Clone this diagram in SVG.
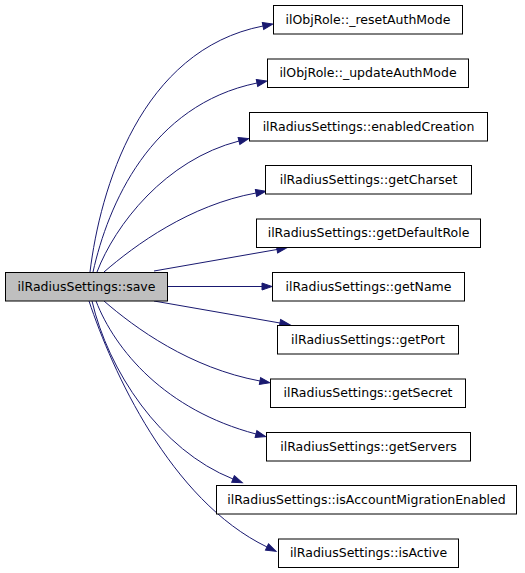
<svg xmlns="http://www.w3.org/2000/svg" width="525" height="573" viewBox="0 0 525 573">
<style>
.n rect{fill:#fff;stroke:#000;stroke-width:1}
.n text{font-family:"DejaVu Sans",sans-serif;font-size:12.5px;text-anchor:middle;fill:#000}
#save rect{fill:#bfbfbf}
.e path{fill:none;stroke:#191970;stroke-width:1;marker-end:url(#ah)}
</style>
<defs>
<marker id="ah" markerUnits="userSpaceOnUse" markerWidth="12" markerHeight="10" refX="0" refY="4" orient="auto" viewBox="0 0 12 8" overflow="visible">
<path d="M0,0.5 L10,4 L0,7.5 Z" fill="#191970" stroke="#191970" stroke-width="1"/>
</marker>
</defs>
<g id="edges" class="e">
<path d="M90,272 C100,190 140,50 263,26"/>
<path d="M93,272 C108,205 150,105 257,83"/>
<path d="M97,272 C115,225 165,160 239,141"/>
<path d="M104,272 C135,245 190,205 256,193"/>
<path d="M154,271 L277,249.5"/>
<path d="M167,286.5 L262,286.5"/>
<path d="M154,301 L280,323"/>
<path d="M104,301 C135,328 190,368 260,381"/>
<path d="M96,301 C115,350 165,410 256,434"/>
<path d="M92,301 C108,370 160,450 233,479"/>
<path d="M89,301 C112,370 170,500 267,547"/>
</g>
<g id="save" class="n"><rect x="5.5" y="272.5" width="162" height="28.5"/><text x="86.5" y="290.5">ilRadiusSettings::save</text></g>
<g id="n1" class="n"><rect x="273.5" y="5.5" width="189" height="28.5"/><text x="368" y="23.5">ilObjRole::_resetAuthMode</text></g>
<g id="n2" class="n"><rect x="267.5" y="59" width="201" height="28.5"/><text x="368" y="77">ilObjRole::_updateAuthMode</text></g>
<g id="n3" class="n"><rect x="249.5" y="112.5" width="238" height="28.5"/><text x="368.5" y="130.5">ilRadiusSettings::enabledCreation</text></g>
<g id="n4" class="n"><rect x="265.5" y="165.5" width="206" height="28.5"/><text x="368.5" y="183.5">ilRadiusSettings::getCharset</text></g>
<g id="n5" class="n"><rect x="256.5" y="219" width="224" height="28.5"/><text x="368.5" y="237">ilRadiusSettings::getDefaultRole</text></g>
<g id="n6" class="n"><rect x="272.5" y="272.5" width="192" height="28.5"/><text x="368.5" y="290.5">ilRadiusSettings::getName</text></g>
<g id="n7" class="n"><rect x="277.5" y="325.5" width="181" height="28.5"/><text x="368" y="343.5">ilRadiusSettings::getPort</text></g>
<g id="n8" class="n"><rect x="270.5" y="379" width="195" height="28.5"/><text x="368" y="397">ilRadiusSettings::getSecret</text></g>
<g id="n9" class="n"><rect x="266.5" y="432.5" width="204" height="28.5"/><text x="368.5" y="450.5">ilRadiusSettings::getServers</text></g>
<g id="n10" class="n"><rect x="216.5" y="485.5" width="300" height="28.5"/><text x="366.5" y="503.5">ilRadiusSettings::isAccountMigrationEnabled</text></g>
<g id="n11" class="n"><rect x="278.5" y="539" width="180" height="28.5"/><text x="368.5" y="557">ilRadiusSettings::isActive</text></g>
</svg>
